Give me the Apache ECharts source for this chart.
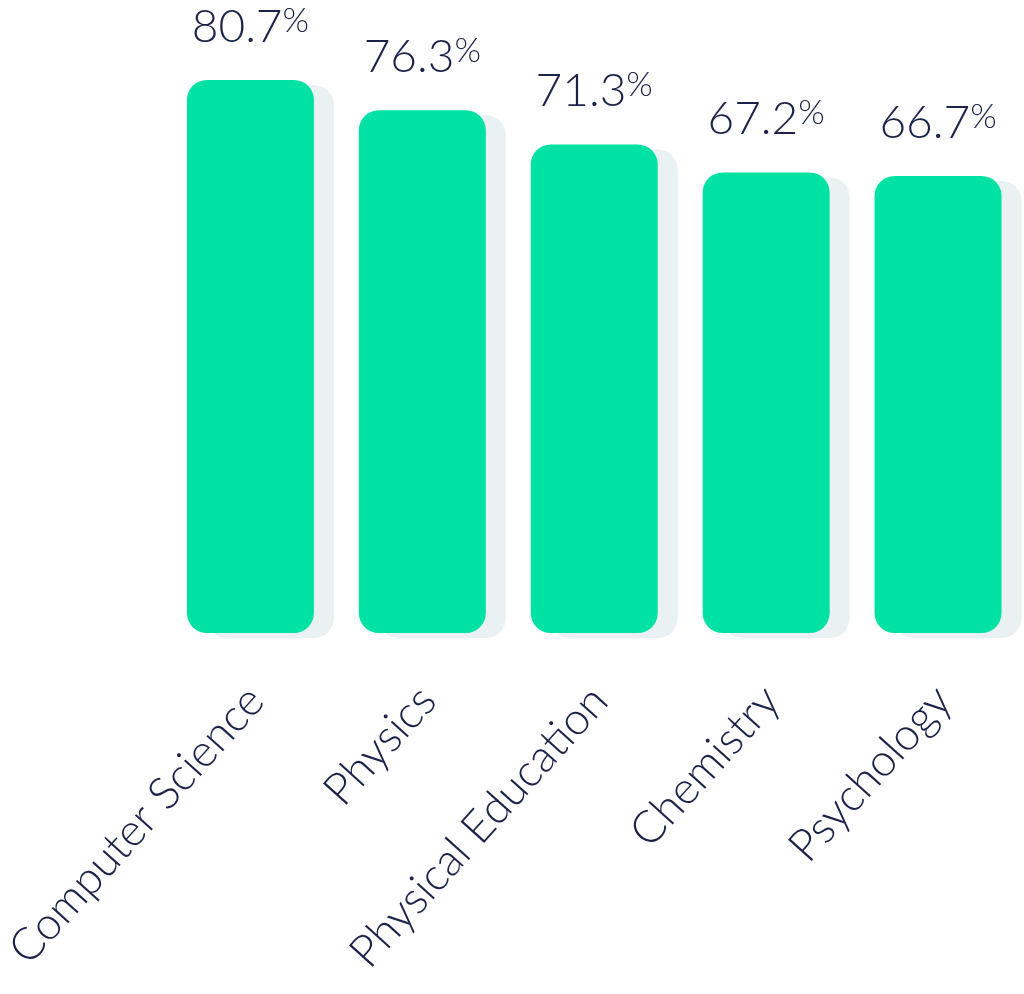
<!DOCTYPE html>
<html><head><meta charset="utf-8">
<script src="https://cdn.jsdelivr.net/npm/echarts@6/dist/echarts.min.js"></script>
<style>html,body{margin:0;padding:0;background:#fff}#c{width:1024px;height:994px}</style>
</head><body><div id="c"></div>
<script>
const categories = ['Computer Science', 'Physics', 'Physical Education', 'Chemistry', 'Psychology'];
const values = [80.7, 76.3, 71.3, 67.2, 66.7];

const chart = echarts.init(document.getElementById('c'), null, {renderer: 'canvas'});
chart.setOption({
  backgroundColor: '#ffffff',
  animation: false,
  grid: {left: 162, right: -5, top: 80, bottom: 361, containLabel: false},
  xAxis: {
    type: 'category', data: categories,
    axisLine: {show: false}, axisTick: {show: false},
    axisLabel: {rotate: 48, margin: 66, fontFamily: 'Lato', fontWeight: 300, fontSize: 45, color: '#1b2249', interval: 0, padding: [0, -8, 0, 0]}
  },
  yAxis: {type: 'value', min: 0, max: 80.7, show: false, splitLine: {show: false}},
  series: [{
    type: 'bar', data: values, barWidth: 127,
    itemStyle: {color: '#00e2a3', borderRadius: 20, shadowColor: '#eaf1f3', shadowOffsetX: 20, shadowOffsetY: 5, shadowBlur: 0},
    label: {
      show: true, position: 'top', distance: 30,
      formatter: p => '{v|' + p.value.toFixed(1) + '}{p|%}',
      rich: {
        v: {fontFamily: 'Lato', fontWeight: 300, fontSize: 46, color: '#1b2249'},
        p: {fontFamily: 'Lato', fontWeight: 300, fontSize: 34, color: '#1b2249', verticalAlign: 'top', padding: [0,0,12,0]}
      }
    }
  }]
});
</script></body></html>
